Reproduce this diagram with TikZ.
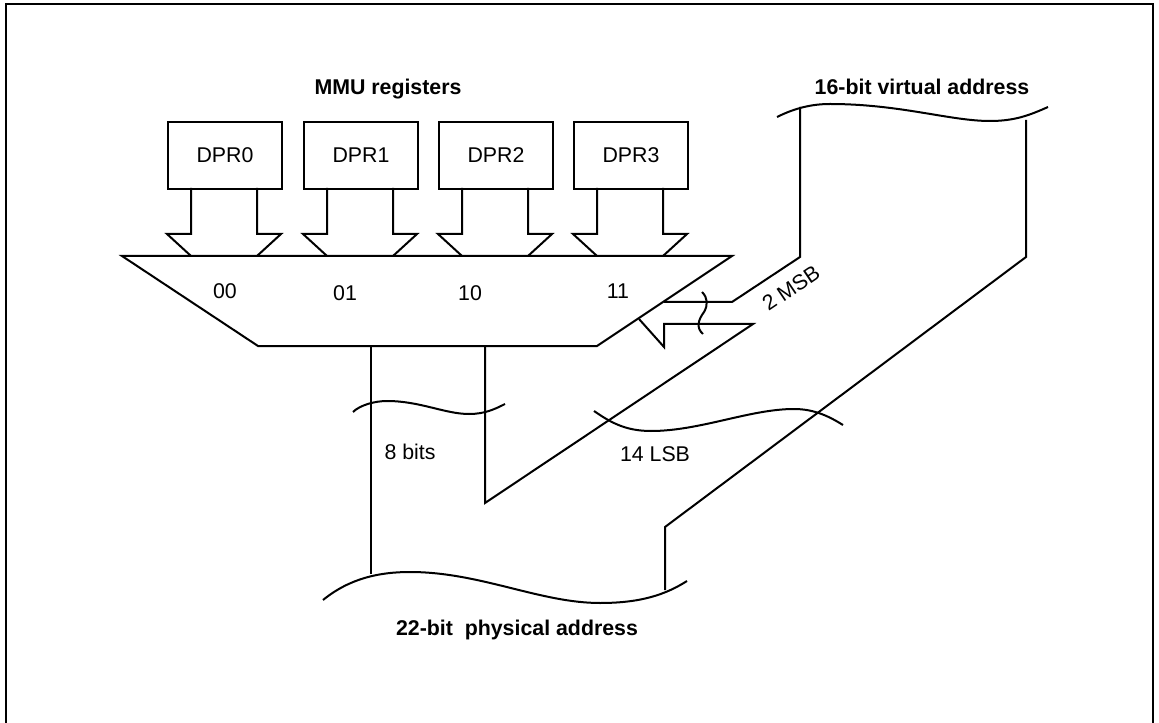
\documentclass[tikz,border=0pt]{standalone}
\usepackage{fontspec}
\setmainfont{Liberation Sans}
\begin{document}
\begin{tikzpicture}[x=0.75pt,y=-0.75pt,
  ln/.style={line width=1.5pt,line join=miter},
  reg/.style={draw,line width=1.5pt,minimum width=114*0.75pt,minimum height=67*0.75pt,inner sep=0pt,font=\fontsize{16}{19}\selectfont},
  lbl/.style={font=\fontsize{16}{19}\selectfont,inner sep=0pt},
  ttl/.style={font=\fontsize{16}{19}\selectfont\bfseries,inner sep=0pt}]
\useasboundingbox (0,0) rectangle (1159,723);
% frame
\draw[line width=2.2pt] (6,723) -- (6,4) -- (1153,4) -- (1153,723);
% titles
\node[ttl] (mmu) at (388,89) {MMU registers};
\node[ttl] (va) at (922,87) {16-bit virtual address};
\node[ttl] (pa) at (517,630) {22-bit\ \ physical address};
% registers
\foreach \L/\n in {167/0,303/1,438/2,573/3}{
  \node[reg,anchor=north west] (dpr\n) at (\L,121) {DPR\n};
  \draw[ln] (\L+24,188) -- (\L+24,234) -- (\L,234) -- (\L+24,256);
  \draw[ln] (\L+90,188) -- (\L+90,234) -- (\L+114,234) -- (\L+90,256);
}
% multiplexer trapezoid
\coordinate (tl) at (122,256);
\coordinate (tr) at (732,256);
\coordinate (br) at (597,346);
\coordinate (bl) at (258,346);
\draw[ln] (tl) -- (tr) -- (br) -- (bl) -- cycle;
\node[lbl] (s00) at (225,291) {00};
\node[lbl] (s01) at (345,293) {01};
\node[lbl] (s10) at (470,293) {10};
\node[lbl] (s11) at (618,291) {11};
% virtual address bus
\draw[ln] (777,117) .. controls (795,108) and (812,104) .. (830,104)
  .. controls (900,104) and (950,121) .. (990,121)
  .. controls (1015,121) and (1030,115) .. (1048,107);
% 2 MSB select lines
\coordinate (vl) at (800,107);
\coordinate (msbin) at (664,302);
\draw[ln] (vl) -- (800,257) -- (732,302) -- (msbin);
\coordinate (lsbout) at (485,346);
\draw[ln] (639,319) -- (664,347) -- (664,324) -- (753,324) -- (485,503) -- (lsbout);
\draw[ln] (702,292) .. controls (708,298) and (708,305) .. (704,312)
  .. controls (698,320) and (696,328) .. (703,334);
\node[lbl,rotate=34] (msb) at (791,288) {2 MSB};
% 14 LSB path
\coordinate (vr) at (1026,120);
\coordinate (pr) at (665,590);
\draw[ln] (vr) -- (1026,257) -- (665,527) -- (pr);
\draw[ln] (594,411) .. controls (610,422) and (625,431) .. (651,431)
  .. controls (700,431) and (750,409) .. (794,409)
  .. controls (815,409) and (830,417) .. (843,425);
\node[lbl] (lsb) at (655,454) {14 LSB};
% 8 bits
\coordinate (mo) at (371,346);
\coordinate (pl) at (371,574);
\draw[ln] (mo) -- (pl);
\draw[ln] (353,412) .. controls (360,405) and (375,401) .. (387,401)
  .. controls (420,401) and (445,414) .. (469,414)
  .. controls (485,414) and (495,409) .. (505,404);
\node[lbl] (eight) at (410,452) {8 bits};
% physical address bus
\draw[ln] (323,600) .. controls (350,578) and (380,572) .. (410,572)
  .. controls (480,572) and (540,603) .. (600,603)
  .. controls (640,603) and (665,595) .. (687,581);
\end{tikzpicture}
\end{document}
